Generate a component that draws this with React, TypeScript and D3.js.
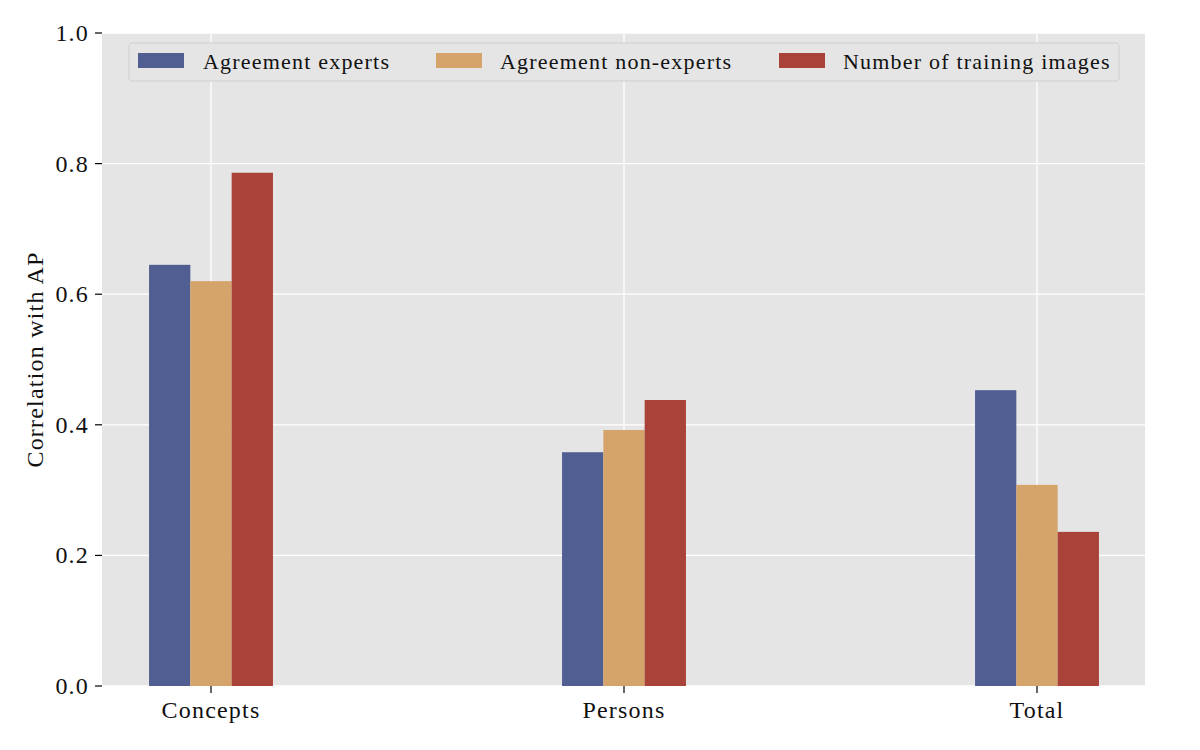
import React from 'react'
import * as d3 from 'd3'

const categories = ['Concepts', 'Persons', 'Total']
const seriesNames = ['Agreement experts', 'Agreement non-experts', 'Number of training images']
const expertsValues = [0.645, 0.358, 0.453]
const nonExpertsValues = [0.620, 0.392, 0.308]
const trainingValues = [0.786, 0.438, 0.236]
const yTicks = [0, 0.2, 0.4, 0.6, 0.8, 1.0]

const colors = ['#505e92', '#d5a46a', '#a9433a']

const width = 1200
const height = 750
const margin = { top: 33, right: 55, bottom: 64, left: 102 }
const font = '"Liberation Serif", "Times New Roman", serif'

export default function App() {
  const series = [expertsValues, nonExpertsValues, trainingValues]

  const x = d3.scalePoint<string>()
    .domain(categories)
    .range([211, 1037])

  const y = d3.scaleLinear()
    .domain([0, 1])
    .range([height - margin.bottom, margin.top])

  const barW = 41.3
  const plotL = margin.left
  const plotR = width - margin.right
  const plotT = margin.top
  const plotB = height - margin.bottom

  const legendItems = [
    { swatch: 138, text: 203 },
    { swatch: 436, text: 500 },
    { swatch: 779, text: 843 },
  ]

  const labelStyle = { fontFamily: font, fontSize: 24, letterSpacing: 1.2, fill: '#111' }

  return (
    <svg width={width} height={height} style={{ position: 'absolute', left: 0, top: 0, background: '#fff' }}>
      <rect x={plotL} y={plotT} width={plotR - plotL} height={plotB - plotT} fill='#e5e5e5' />

      {/* grid */}
      {yTicks.map(t => (
        <line key={'gy' + t} x1={plotL} x2={plotR} y1={y(t)} y2={y(t)} stroke='#fff' strokeWidth={1.3} />
      ))}
      {categories.map(c => (
        <line key={'gx' + c} x1={x(c)} x2={x(c)} y1={plotT} y2={plotB} stroke='#fff' strokeWidth={1.3} />
      ))}

      {/* bars */}
      {series.map((vals, si) => (
        <g key={'s' + si}>
          {categories.map((c, ci) => (
            <rect
              key={c}
              x={(x(c) as number) + (si - 1.5) * barW}
              y={y(vals[ci])}
              width={barW}
              height={y(0) - y(vals[ci])}
              fill={colors[si]}
            />
          ))}
        </g>
      ))}

      {/* y axis */}
      {yTicks.map(t => (
        <g key={'ty' + t}>
          <line x1={plotL - 7} x2={plotL} y1={y(t)} y2={y(t)} stroke='#000' strokeWidth={1.2} />
          <text x={plotL - 13} y={y(t) + 8} textAnchor='end' style={labelStyle}>
            {t.toFixed(1)}
          </text>
        </g>
      ))}

      {/* x axis */}
      {categories.map(c => (
        <g key={'tx' + c}>
          <line x1={x(c)} x2={x(c)} y1={plotB} y2={plotB + 7} stroke='#000' strokeWidth={1.2} />
          <text x={x(c)} y={plotB + 32} textAnchor='middle' style={labelStyle}>
            {c}
          </text>
        </g>
      ))}

      <text
        transform={`translate(43, ${(plotT + plotB) / 2}) rotate(-90)`}
        textAnchor='middle'
        style={labelStyle}
      >
        Correlation with AP
      </text>

      {/* legend */}
      <rect x={129} y={43} width={990} height={38} rx={3} fill='#e5e5e5' stroke='#cfcfcf' strokeWidth={1} />
      {legendItems.map((it, i) => (
        <g key={'lg' + i}>
          <rect x={it.swatch} y={53} width={46} height={15} fill={colors[i]} />
          <text x={it.text} y={69} fontFamily={font} fontSize={22} letterSpacing={1.2} fill='#111'>
            {seriesNames[i]}
          </text>
        </g>
      ))}
    </svg>
  )
}
